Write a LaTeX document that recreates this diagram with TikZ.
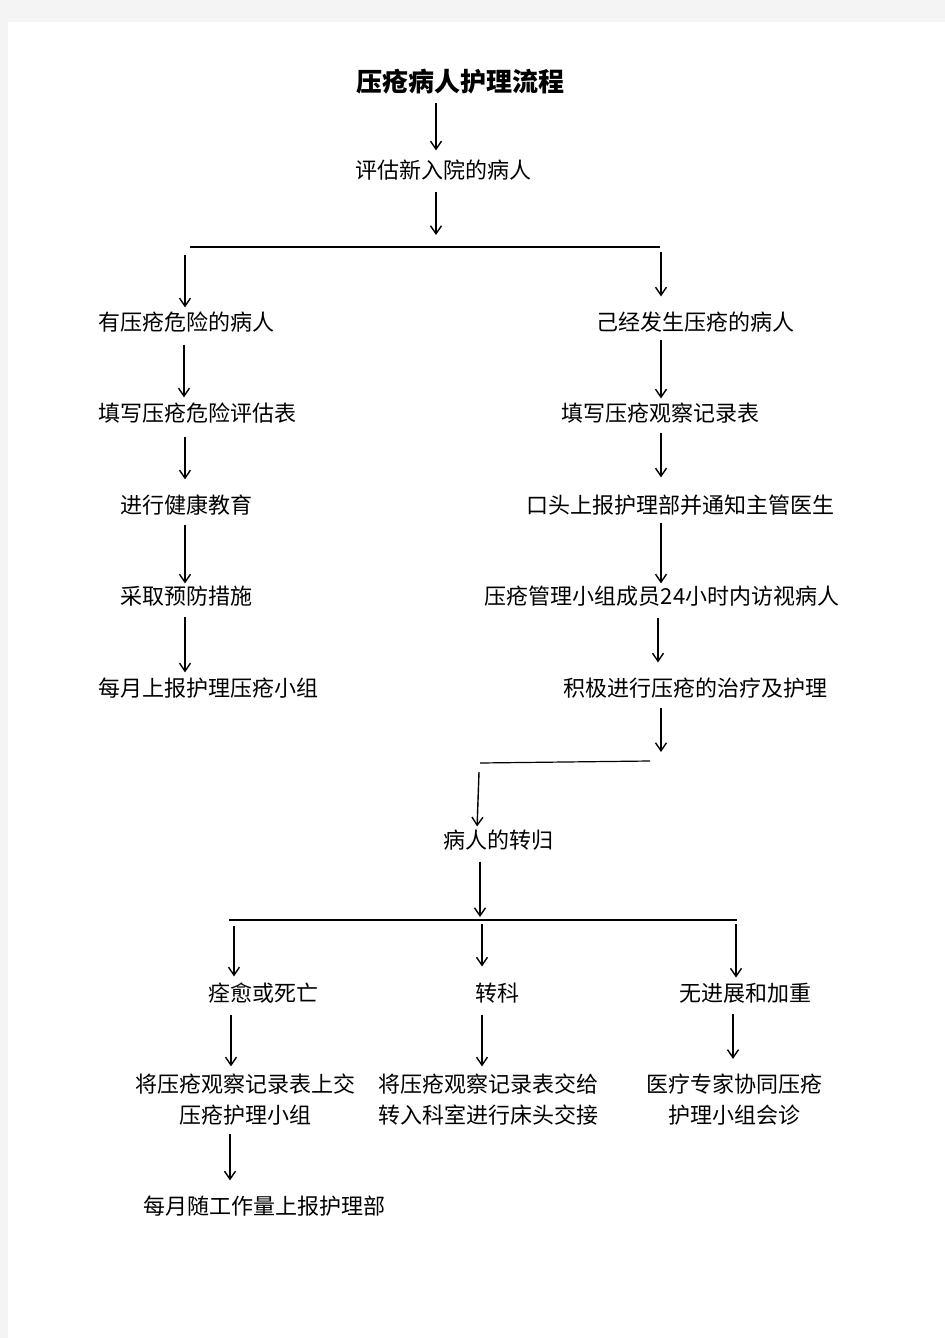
\documentclass[tikz,border=0pt]{standalone}
\usepackage{fontspec}
\setmainfont{Noto Sans CJK SC}
\usepackage{tikz}
\usepackage{xcolor}
\usetikzlibrary{arrows.meta, positioning, calc}
\definecolor{pagebg}{HTML}{F4F4F4}
\tikzset{
  arr/.style={-{Straight Barb[length=4pt,width=5.5pt]}, line width=0.7pt},
  bar/.style={line width=0.6pt},
  txt/.style={inner sep=0pt, align=center, font=\fontsize{11}{15.5}\selectfont}
}
\begin{document}
\begin{tikzpicture}[x=0.5pt, y=-0.5pt]
\useasboundingbox (0,0) rectangle (945,1338);
\fill[pagebg] (0,0) rectangle (945,1338);
\fill[white] (8,22) rectangle (945,1338);

\node[txt, font=\fontsize{13}{16}\selectfont\bfseries] (title) at (460,82) {压疮病人护理流程};
\node[txt] (assess) at (443,170) {评估新入院的病人};
\node[txt] (risk) at (186,322) {有压疮危险的病人};
\node[txt] (sore) at (695,322) {己经发生压疮的病人};
\node[txt] (riskform) at (197,413) {填写压疮危险评估表};
\node[txt] (edu) at (186,505) {进行健康教育};
\node[txt] (prevent) at (186,596) {采取预防措施};
\node[txt] (monthly) at (208,688) {每月上报护理压疮小组};
\node[txt] (obsform) at (660,413) {填写压疮观察记录表};
\node[txt] (report) at (680,505) {口头上报护理部并通知主管医生};
\node[txt] (visit) at (662,596) {压疮管理小组成员24小时内访视病人};
\node[txt] (treat) at (695,688) {积极进行压疮的治疗及护理};
\node[txt] (outcome) at (498,840) {病人的转归};
\node[txt] (heal) at (263,993) {痊愈或死亡};
\node[txt] (transfer) at (497,993) {转科};
\node[txt] (nochange) at (745,993) {无进展和加重};
\node[txt] (handin) at (245,1100) {将压疮观察记录表上交\\压疮护理小组};
\node[txt] (handover) at (488,1100) {将压疮观察记录表交给\\转入科室进行床头交接};
\node[txt] (consult) at (734,1100) {医疗专家协同压疮\\护理小组会诊};
\node[txt] (workload) at (264,1206) {每月随工作量上报护理部};

\coordinate (splitin) at (436,235);
\coordinate (splitl) at (190,247);
\coordinate (splitr) at (660,247);
\coordinate (riskin) at (185,255);
\coordinate (sorein) at (661,252);
\coordinate (joinin) at (661,752);
\coordinate (joinl) at (480,763);
\coordinate (joinr) at (650,761);
\coordinate (outin) at (479,772);
\coordinate (endin) at (480,917);
\coordinate (endl) at (229,920);
\coordinate (endr) at (737,920);
\coordinate (healin) at (234,926);
\coordinate (transin) at (482,924);
\coordinate (noin) at (736,924);

\draw[arr, shorten <=4pt, shorten >=4.5pt] ([xshift=-12pt]title.south) -- ([xshift=-3.5pt]assess.north);
\draw[arr, shorten <=5.5pt] ([xshift=-3.5pt]assess.south) -- (splitin);
\draw[bar] (splitl) -- (splitr);
\draw[arr, shorten >=2pt] (riskin) -- (riskin |- risk.north);
\draw[arr, shorten >=7.5pt] (sorein) -- (sorein |- sore.north);

\draw[arr, shorten <=6pt, shorten >=2.5pt] ([xshift=-1pt]risk.south) -- ([xshift=-6.5pt]riskform.north);
\draw[arr, shorten <=6.5pt, shorten >=7.5pt] ([xshift=-6pt]riskform.south) -- ([xshift=-0.5pt]edu.north);
\draw[arr, shorten <=4.5pt, shorten >=1pt] ([xshift=-0.5pt]edu.south) -- ([xshift=-0.5pt]prevent.north);
\draw[arr, shorten <=5pt, shorten >=2.5pt] ([xshift=-0.5pt]prevent.south) -- ([xshift=-11.5pt]monthly.north);

\draw[arr, shorten <=3.5pt, shorten >=2pt] ([xshift=-17pt]sore.south) -- ([xshift=0.5pt]obsform.north);
\draw[arr, shorten <=4.5pt, shorten >=8.5pt] ([xshift=0.5pt]obsform.south) -- ([xshift=-9.5pt]report.north);
\draw[arr, shorten <=3.5pt, shorten >=1pt] ([xshift=-9.5pt]report.south) -- ([xshift=-0.5pt]visit.north);
\draw[arr, shorten <=5.5pt, shorten >=7.5pt] ([xshift=-2pt]visit.south) -- ([xshift=-18.5pt]treat.north);
\draw[arr, shorten <=4.5pt] ([xshift=-17pt]treat.south) -- (joinin);
\draw[bar] (joinl) -- (joinr);
\draw[arr, shorten >=1.5pt] (outin) -- ([xshift=-10.5pt]outcome.north);
\draw[arr, shorten <=5.5pt] ([xshift=-9pt]outcome.south) -- (endin);
\draw[bar] (endl) -- (endr);

\draw[arr, shorten >=3pt] (healin) -- (healin |- heal.north);
\draw[arr, shorten >=8pt] (transin) -- (transin |- transfer.north);
\draw[arr, shorten >=2.5pt] (noin) -- (noin |- nochange.north);
\draw[arr, shorten <=5.5pt, shorten >=3.75pt] ([xshift=-16pt]heal.south) -- ([xshift=-7pt]handin.north);
\draw[arr, shorten <=5.5pt, shorten >=3.75pt] ([xshift=-7.5pt]transfer.south) -- ([xshift=-3pt]handover.north);
\draw[arr, shorten <=5.5pt, shorten >=7.5pt] ([xshift=-6pt]nochange.south) -- ([xshift=-0.5pt]consult.north);
\draw[arr, shorten <=4pt, shorten >=7.5pt] ([xshift=-7.5pt]handin.south) -- ([xshift=-17pt]workload.north);
\end{tikzpicture}
\end{document}
